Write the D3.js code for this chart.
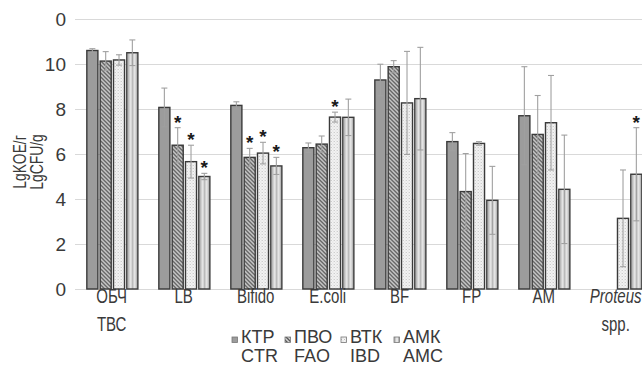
<!DOCTYPE html>
<html>
<head>
<meta charset="utf-8">
<script src="https://cdn.jsdelivr.net/npm/d3@7"></script>
<style>
  body { margin: 0; background: #fff; }
  svg { display: block; }
  text { fill: #3a3a3a; }
</style>
</head>
<body>
<div id="container"></div>
<script>
// chart data
var categories = ["ОБЧ|ТВС", "LB", "Bifido", "E.coli", "BF", "FP", "AM", "Proteus|spp."];
var seriesRu = ["КТР", "ПВО", "ВТК", "АМК"];
var seriesEn = ["CTR", "FAO", "IBD", "AMC"];

var ctr = [10.6, 8.07, 8.16, 6.28, 9.29, 6.55, 7.70, null];
var fao = [10.13, 6.39, 5.85, 6.44, 9.88, 4.33, 6.87, null];
var ibd = [10.18, 5.66, 6.04, 7.64, 8.27, 6.47, 7.39, 3.14];
var amc = [10.5, 5.0, 5.47, 7.63, 8.46, 3.94, 4.43, 5.1];

var ctrErr = [0.08, 0.86, 0.16, 0.21, 0.7, 0.4, 2.18, null];
var faoErr = [0.42, 0.78, 0.4, 0.36, 0.27, 1.69, 1.73, null];
var ibdErr = [0.23, 0.73, 0.48, 0.22, 2.29, 0.08, 2.1, 2.15];
var amcErr = [0.57, 0.14, 0.38, 0.81, 2.28, 1.51, 2.41, 2.07];

// significance marks (1 = star above bar)
var ctrStar = [0, 0, 0, 0, 0, 0, 0, 0];
var faoStar = [0, 1, 1, 0, 0, 0, 0, 0];
var ibdStar = [0, 1, 1, 1, 0, 0, 0, 0];
var amcStar = [0, 1, 1, 0, 0, 0, 0, 1];

var yTicks = [0, 2, 4, 6, 8, 10, 12];
var yTickLabels = ["0", "2", "4", "6", "8", "10", "0"];

var values = [ctr, fao, ibd, amc];
var errors = [ctrErr, faoErr, ibdErr, amcErr];
var stars = [ctrStar, faoStar, ibdStar, amcStar];

var w = 642, h = 365;
var narrow = 0.77; // no narrow font installed, squeeze Liberation Sans instead

var svg = d3.select("div#container")
  .append("svg")
  .attr("width", w)
  .attr("height", h);

// fill patterns for the four series
var defs = svg.append("defs");

var hatch = defs.append("pattern")
  .attr("id", "hatch")
  .attr("patternUnits", "userSpaceOnUse")
  .attr("width", 4).attr("height", 4);
hatch.append("rect").attr("width", 4).attr("height", 4).attr("fill", "#d4d4d4");
hatch.append("path").attr("d", "M-1,-1 L5,5 M3,-1 L5,1 M-1,3 L1,5")
  .attr("stroke", "#555").attr("stroke-width", 1.3);

var dots = defs.append("pattern")
  .attr("id", "dots")
  .attr("patternUnits", "userSpaceOnUse")
  .attr("width", 3).attr("height", 3);
dots.append("rect").attr("width", 3).attr("height", 3).attr("fill", "#f4f4f4");
dots.append("rect").attr("width", 1).attr("height", 1).attr("fill", "#bdbdbd");
dots.append("rect").attr("x", 1.5).attr("y", 1.5).attr("width", 1).attr("height", 1).attr("fill", "#cfcfcf");

var vstripe = defs.append("pattern")
  .attr("id", "vstripe")
  .attr("patternUnits", "userSpaceOnUse")
  .attr("width", 4).attr("height", 4);
vstripe.append("rect").attr("width", 4).attr("height", 4).attr("fill", "#e4e4e4");
vstripe.append("rect").attr("width", 1.6).attr("height", 4).attr("fill", "#b5b5b5");

var fills = ["#9c9c9c", "url(#hatch)", "url(#dots)", "url(#vstripe)"];

// scales
var x0 = d3.scaleBand()
  .domain(categories)
  .range([75.7, 651.7]);

var x1 = d3.scaleBand()
  .domain(d3.range(4))
  .range([10, 63.3])
  .paddingInner(0.17)
  .paddingOuter(0.085);

var y = d3.scaleLinear()
  .domain([0, 12])
  .range([289, 19]);

// gridlines
svg.append("g")
  .attr("class", "grid")
  .selectAll("line")
  .data(yTicks)
  .enter().append("line")
  .attr("x1", 75).attr("x2", w)
  .attr("y1", function(d) { return Math.round(y(d)) + 0.5; })
  .attr("y2", function(d) { return Math.round(y(d)) + 0.5; })
  .attr("stroke", "#d9d9d9")
  .attr("stroke-width", 1);

// y tick labels
svg.append("g")
  .attr("class", "ylabels")
  .selectAll("text")
  .data(yTicks)
  .enter().append("text")
  .attr("x", 66)
  .attr("y", function(d) { return y(d) + 7; })
  .attr("text-anchor", "end")
  .style("font-family", "'Liberation Sans', Arial, sans-serif")
  .style("font-size", "19px")
  .text(function(d, i) { return yTickLabels[i]; });

// y title
var ytitle = svg.append("text")
  .attr("transform", "translate(0,162) rotate(-90) scale(" + narrow + ",1)")
  .attr("text-anchor", "middle")
  .style("font-family", "'Liberation Sans', Arial, sans-serif")
  .style("font-size", "18px");
ytitle.append("tspan").attr("x", 0).attr("y", 26).text("LgKOE/г");
ytitle.append("tspan").attr("x", 0).attr("y", 43).text("LgCFU/g");

// bars
var groups = svg.append("g")
  .attr("class", "bars")
  .selectAll("g")
  .data(categories)
  .enter().append("g")
  .attr("transform", function(d) { return "translate(" + x0(d) + ",0)"; });

var barData = function(d, i) {
  return values.map(function(s, k) {
    return { k: k, v: s[i], e: errors[k][i], star: stars[k][i] };
  }).filter(function(b) { return b.v != null; });
};

groups.selectAll("rect")
  .data(barData)
  .enter().append("rect")
  .attr("x", function(b) { return x1(b.k); })
  .attr("y", function(b) { return y(b.v); })
  .attr("width", x1.bandwidth())
  .attr("height", function(b) { return y(0) - y(b.v); })
  .attr("fill", function(b) { return fills[b.k]; })
  .attr("stroke", "#3a3a3a")
  .attr("stroke-width", 1.4);

// error bars
var err = groups.selectAll("g.err")
  .data(barData)
  .enter().append("g")
  .attr("class", "err")
  .attr("stroke", "#a0a0a0")
  .attr("stroke-width", 1.1);

err.append("line")
  .attr("x1", function(b) { return x1(b.k) + x1.bandwidth() / 2; })
  .attr("x2", function(b) { return x1(b.k) + x1.bandwidth() / 2; })
  .attr("y1", function(b) { return y(b.v + b.e); })
  .attr("y2", function(b) { return y(b.v - b.e); });

err.append("line")
  .attr("x1", function(b) { return x1(b.k) + x1.bandwidth() / 2 - 3; })
  .attr("x2", function(b) { return x1(b.k) + x1.bandwidth() / 2 + 3; })
  .attr("y1", function(b) { return y(b.v + b.e); })
  .attr("y2", function(b) { return y(b.v + b.e); });

err.append("line")
  .attr("x1", function(b) { return x1(b.k) + x1.bandwidth() / 2 - 3; })
  .attr("x2", function(b) { return x1(b.k) + x1.bandwidth() / 2 + 3; })
  .attr("y1", function(b) { return y(b.v - b.e); })
  .attr("y2", function(b) { return y(b.v - b.e); });

// stars
groups.selectAll("text.star")
  .data(function(d, i) { return barData(d, i).filter(function(b) { return b.star; }); })
  .enter().append("text")
  .attr("class", "star")
  .attr("x", function(b) { return x1(b.k) + x1.bandwidth() / 2; })
  .attr("y", function(b) { return y(b.v + b.e) + 1; })
  .attr("text-anchor", "middle")
  .style("font-family", "'Liberation Sans', Arial, sans-serif")
  .style("font-size", "19px")
  .style("font-weight", "bold")
  .style("fill", "#1a1a1a")
  .text("*");

// x labels
var xl = svg.append("g")
  .attr("class", "xlabels")
  .selectAll("text")
  .data(categories)
  .enter().append("text")
  .attr("transform", function(d) {
    return "translate(" + (x0(d) + x0.bandwidth() / 2) + ",0) scale(" + narrow + ",1)";
  })
  .attr("text-anchor", "middle")
  .style("font-family", "'Liberation Sans', Arial, sans-serif")
  .style("font-size", "19.5px");

xl.selectAll("tspan")
  .data(function(d) {
    return d.split("|").map(function(p, j) { return { t: p, j: j }; });
  })
  .enter().append("tspan")
  .attr("x", 0)
  .attr("y", function(p) { return 303 + p.j * 28; })
  .style("font-style", function(p) { return p.t === "Proteus" ? "italic" : "normal"; })
  .text(function(p) { return p.t; });

// legend
var legendX = [232, 285, 341, 394];
var legend = svg.append("g")
  .attr("class", "legend")
  .selectAll("g")
  .data(seriesRu)
  .enter().append("g")
  .attr("transform", function(d, i) { return "translate(" + legendX[i] + ",0)"; });

legend.append("rect")
  .attr("x", 0).attr("y", 337)
  .attr("width", 5.5).attr("height", 5.5)
  .attr("fill", function(d, i) { return fills[i]; })
  .attr("stroke", "#777")
  .attr("stroke-width", 0.8);

var lt = legend.append("text")
  .style("font-family", "'Liberation Sans', Arial, sans-serif")
  .style("font-size", "18px");
lt.append("tspan").attr("x", 9).attr("y", 343).text(function(d) { return d; });
lt.append("tspan").attr("x", 9).attr("y", 362).text(function(d, i) { return seriesEn[i]; });
</script>
</body>
</html>
